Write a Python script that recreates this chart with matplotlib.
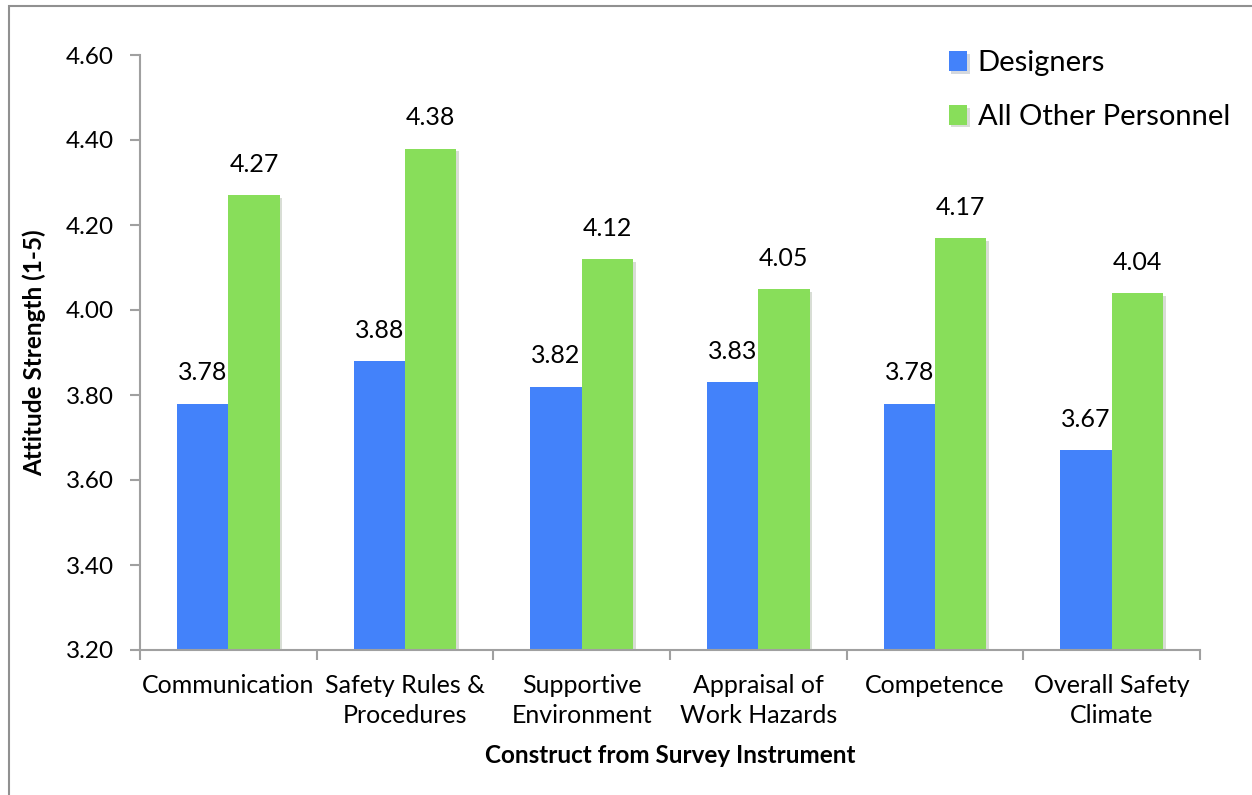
import matplotlib.pyplot as plt
import numpy as np
import matplotlib.patheffects as pe

plt.rcParams['font.family'] = ['Lato', 'DejaVu Sans']

categories = ['Communication', 'Safety Rules &\nProcedures', 'Supportive\nEnvironment',
              'Appraisal of\nWork Hazards', 'Competence', 'Overall Safety\nClimate']
designers = [3.78, 3.88, 3.82, 3.83, 3.78, 3.67]
others = [4.27, 4.38, 4.12, 4.05, 4.17, 4.04]
yticks = [3.20, 3.40, 3.60, 3.80, 4.00, 4.20, 4.40, 4.60]

blue = '#4382FA'
green = '#88DE5A'
grey = '#A0A0A0'

fig = plt.figure(figsize=(12.52, 7.95), dpi=100)
ax = fig.add_axes([140 / 1252, 1 - 650 / 795, 1060 / 1252, 595 / 795])

x = np.arange(len(categories))
w = 0.29
shadow = [pe.SimplePatchShadow(offset=(2, -2), alpha=0.18), pe.Normal()]
ax.bar(x - w / 2, [v - 3.2 for v in designers], w, bottom=3.2, color=blue,
       label='Designers', path_effects=shadow)
ax.bar(x + w / 2, [v - 3.2 for v in others], w, bottom=3.2, color=green,
       label='All Other Personnel', path_effects=shadow)

for xi, v in zip(x - w / 2, designers):
    ax.text(xi, v + 0.045, f'{v:.2f}', ha='center', va='bottom', fontsize=18)
for xi, v in zip(x + w / 2, others):
    ax.text(xi, v + 0.045, f'{v:.2f}', ha='center', va='bottom', fontsize=18)

ax.set_xlim(-0.5, len(categories) - 0.5)
ax.set_ylim(3.2, 4.6)
ax.set_yticks(yticks)
ax.set_yticklabels([f'{t:.2f}' for t in yticks], fontsize=17.5)
ax.set_xticks(x)
ax.set_xticklabels(categories, fontsize=18, linespacing=1.4)
ax.set_xticks(np.arange(len(categories) + 1) - 0.5, minor=True)
ax.tick_params(axis='x', which='major', length=0, pad=17)
ax.tick_params(axis='x', which='minor', length=7, color=grey, width=1.5)
ax.tick_params(axis='y', length=7, color=grey, width=1.5, pad=12)

for s in ['top', 'right']:
    ax.spines[s].set_visible(False)
for s in ['left', 'bottom']:
    ax.spines[s].set_color(grey)
    ax.spines[s].set_linewidth(1.5)

ax.set_ylabel('Attitude Strength (1-5)', fontsize=17.5, fontweight='bold', labelpad=14)
ax.set_xlabel('Construct from Survey Instrument', fontsize=17.5, fontweight='bold', labelpad=12)

ax.legend(loc='upper left', bbox_to_anchor=(0.738, 1.052), frameon=False, fontsize=21,
          handlelength=0.65, handleheight=0.65, handletextpad=0.35, labelspacing=0.95)

# outer frame of the chart area
fig.add_artist(plt.Rectangle((9 / 1252, -0.05), 1.1, 1 - 6 / 795 + 0.05,
                             transform=fig.transFigure, fill=False,
                             edgecolor='#909090', linewidth=1.5))

fig.savefig('out.png', dpi=100)
